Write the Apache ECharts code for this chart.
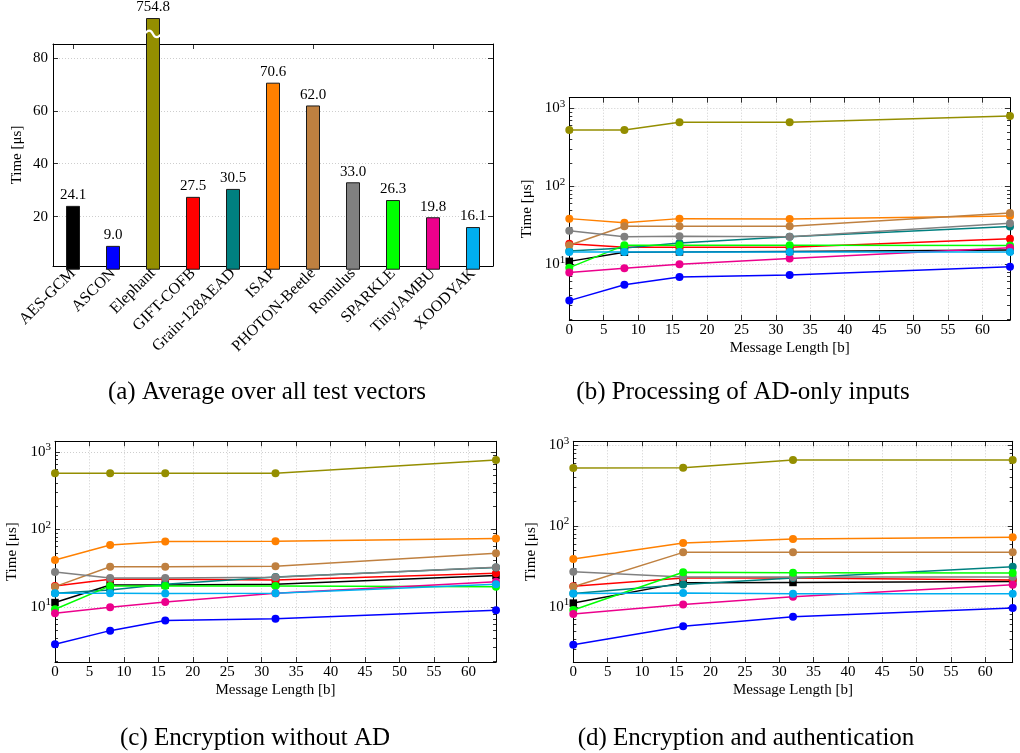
<!DOCTYPE html>
<html><head><meta charset="utf-8">
<script src="https://cdn.jsdelivr.net/npm/echarts@6/dist/echarts.min.js"></script>
<style>html,body{margin:0;padding:0;background:#fff}#c{width:1020px;height:753px}</style>
</head><body><div id="c"></div>
<script>
// ---------- data ----------
const algorithms = ['AES-GCM','ASCON','Elephant','GIFT-COFB','Grain-128AEAD','ISAP','PHOTON-Beetle','Romulus','SPARKLE','TinyJAMBU','XOODYAK'];
const avgTime = [24.1, 9.0, 754.8, 27.5, 30.5, 70.6, 62.0, 33.0, 26.3, 19.8, 16.1];
const barTicks = [20, 40, 60, 80];

const msgLenAD = [0, 8, 16, 32, 64];
const adOnlyTimes = [
  [10.9, 14.3, 14.4, 14.6, 15.2],
  [3.42, 5.48, 6.89, 7.3, 9.3],
  [527, 527, 661, 661, 796],
  [18.4, 16.5, 16.5, 16.5, 21.2],
  [14.8, 16.2, 18.8, 22.6, 30.6],
  [38.5, 34.2, 38.5, 38.1, 41.5],
  [17.5, 30.7, 30.7, 30.7, 45.5],
  [27.0, 22.6, 22.8, 22.6, 33.6],
  [9.06, 17.5, 17.5, 17.5, 17.4],
  [7.82, 8.89, 10.0, 11.9, 16.3],
  [14.4, 14.4, 14.4, 14.4, 14.4]
];

const msgLenEnc = [0, 8, 16, 32, 64];
const encNoAdTimes = [
  [11.4, 19.2, 19.2, 19.6, 25.4],
  [3.3, 4.95, 6.67, 7.06, 9.06],
  [531, 531, 531, 531, 789],
  [18.7, 22.8, 22.8, 22.3, 27.2],
  [15.0, 16.5, 19.6, 24.4, 32.2],
  [40.4, 63.1, 69.7, 70.3, 76.2],
  [18.3, 33.1, 33.1, 33.4, 49.2],
  [28.3, 23.7, 23.7, 24.1, 32.5],
  [9.33, 18.7, 18.7, 18.7, 18.3],
  [8.28, 9.9, 11.6, 15.0, 21.2],
  [15.0, 15.0, 14.9, 15.0, 19.6]
];

const msgLenEncAuth = [0, 16, 32, 64];
const encAuthTimes = [
  [11.1, 19.9, 20.0, 20.5],
  [3.38, 5.75, 7.52, 9.65],
  [524, 526, 658, 658],
  [18.0, 22.7, 22.7, 21.4],
  [14.6, 18.9, 22.7, 31.3],
  [39.0, 61.5, 69.0, 72.4],
  [17.7, 47.2, 47.2, 47.2],
  [27.2, 23.3, 23.3, 23.3],
  [9.1, 26.7, 26.4, 26.2],
  [8.11, 10.7, 13.3, 18.7],
  [14.6, 14.8, 14.5, 14.5]
];

const xTickStep = 5;
const minorLogTicks = [2,3,4,5,6,7,8,9,20,30,40,50,60,70,80,90,200,300,400,500,600,700,800,900];
const captions = ['(a) Average over all test vectors', '(b) Processing of AD-only inputs', '(c) Encryption without AD', '(d) Encryption and authentication'];

// ---------- styles ----------
const colors = ['#000000','#0000ff','#948e00','#ff0000','#008080','#ff8000','#bf8040','#808080','#00ff00','#ec008c','#00aeef'];
const F = '"Liberation Serif","Times New Roman",serif';
const txt = {fontFamily: F, fontSize: 15, color: '#000'};
const gridLine = {show: true, lineStyle: {color: '#c2c2c2', width: 0.8, type: [1, 2]}};
const axisLine = {show: true, onZero: false, lineStyle: {color: '#000', width: 1}};
const tickMajor = {show: true, inside: true, length: 5, lineStyle: {color: '#000', width: 0.8}};

const grids = [
  {left: 53, top: 44, width: 440, height: 222},
  {left: 569.3, top: 97.7, width: 440.7, height: 222.3},
  {left: 55, top: 441.3, width: 441, height: 220.7},
  {left: 573.3, top: 441.3, width: 439.4, height: 220.7}
];

const xAxes = [], yAxes = [], series = [];

// ---------- panel (a) ----------
const barCap = 95, breakAt = 89, barMin = 1.4, barMax = 85.2;
xAxes.push({type: 'category', gridIndex: 0, data: algorithms, position: 'bottom',
  axisLine, axisTick: Object.assign({}, tickMajor, {alignWithLabel: true}),
  axisLabel: Object.assign({}, txt, {fontSize: 16, rotate: 45, margin: 5, interval: 0}), splitLine: {show: false}});
xAxes.push({type: 'category', gridIndex: 0, data: algorithms, position: 'top',
  axisLine, axisTick: Object.assign({}, tickMajor, {alignWithLabel: true}),
  axisLabel: {show: false}, splitLine: {show: false}});
yAxes.push({type: 'value', gridIndex: 0, min: barMin, max: barMax, position: 'left',
  axisLine, axisTick: Object.assign({}, tickMajor, {customValues: barTicks}),
  axisLabel: Object.assign({}, txt, {customValues: barTicks, margin: 5}),
  splitLine: gridLine,
  name: 'Time [μs]', nameLocation: 'middle', nameGap: 28, nameTextStyle: txt});
yAxes.push({type: 'value', gridIndex: 0, min: barMin, max: barMax, position: 'right',
  axisLine, axisTick: Object.assign({}, tickMajor, {customValues: barTicks}),
  axisLabel: {show: false}, splitLine: {show: false}});

series.push({type: 'bar', xAxisIndex: 0, yAxisIndex: 0, barWidth: 14, clip: false, z: 3,
  data: avgTime.map((v, i) => ({value: Math.min(v, barCap), itemStyle: {color: colors[i]}})),
  itemStyle: {borderColor: '#1a1a1a', borderWidth: 1},
  label: Object.assign({}, txt, {show: true, position: 'top', distance: 3,
    formatter: p => avgTime[p.dataIndex].toFixed(1)})});
// axis-break mark on bars taller than the cap
series.push({type: 'custom', xAxisIndex: 0, yAxisIndex: 0, z: 4, clip: false,
  data: avgTime.map((v, i) => [i, v]).filter(d => d[1] > barCap).map(d => [d[0], breakAt]),
  renderItem: (params, api) => {
    const c = api.coord([api.value(0), api.value(1)]);
    const x = c[0], y = c[1];
    const d = `M ${x-9} ${y+1} C ${x-5} ${y-5}, ${x-2} ${y-4}, ${x} ${y} S ${x+5} ${y+5}, ${x+9} ${y-1}`;
    return {type: 'path', shape: {pathData: d}, style: {fill: 'none', stroke: '#fff', lineWidth: 2.2}};
  }});

// ---------- panels (b)-(d) ----------
const powLabel = v => {
  const e = Math.log10(v), r = Math.round(e);
  if (Math.abs(e - r) > 1e-6) return '';
  return '{b|10}{s|' + r + '}';
};
const panels = [
  {g: 1, xs: msgLenAD, vals: adOnlyTimes, min: 1.93, max: 1368},
  {g: 2, xs: msgLenEnc, vals: encNoAdTimes, min: 1.95, max: 1372},
  {g: 3, xs: msgLenEncAuth, vals: encAuthTimes, min: 2.07, max: 1120}
];
panels.forEach(p => {
  const xi = xAxes.length;
  xAxes.push({type: 'value', gridIndex: p.g, min: 0, max: 64, interval: xTickStep, position: 'bottom',
    axisLine, axisTick: tickMajor,
    axisLabel: Object.assign({}, txt, {margin: 3, showMaxLabel: false}),
    splitLine: gridLine,
    name: 'Message Length [b]', nameLocation: 'middle', nameGap: 21, nameTextStyle: txt});
  xAxes.push({type: 'value', gridIndex: p.g, min: 0, max: 64, interval: xTickStep, position: 'top',
    axisLine, axisTick: tickMajor, axisLabel: {show: false}, splitLine: {show: false}});
  const yi = yAxes.length;
  yAxes.push({type: 'log', logBase: 10, gridIndex: p.g, min: p.min, max: p.max, position: 'left',
    axisLine, axisTick: tickMajor,
    axisLabel: {formatter: powLabel, margin: 4, showMinLabel: false, showMaxLabel: false,
      rich: {b: {fontFamily: F, fontSize: 15, color: '#000'},
             s: {fontFamily: F, fontSize: 11, color: '#000', padding: [0, 0, 9, 0]}}},
    splitLine: gridLine,
    name: 'Time [μs]', nameLocation: 'middle', nameGap: 35, nameTextStyle: txt});
  yAxes.push({type: 'log', logBase: 10, gridIndex: p.g, min: p.min, max: p.max, position: 'right',
    axisLine, axisTick: tickMajor, axisLabel: {show: false}, splitLine: {show: false}});
  // minor log ticks: a hidden linear axis laid over the exponent range
  const lo = Math.log10(p.min), hi = Math.log10(p.max);
  const minors = minorLogTicks.filter(v => v > p.min && v < p.max).map(v => Math.log10(v));
  ['left', 'right'].forEach(pos => yAxes.push({type: 'value', gridIndex: p.g, min: lo, max: hi,
    position: pos, axisLine: {show: false, onZero: false},
    axisTick: {show: true, inside: true, length: 3, customValues: minors, lineStyle: {color: '#000', width: 0.8}},
    axisLabel: {show: false, customValues: minors}, splitLine: {show: false}}));
  algorithms.forEach((name, i) => {
    series.push({type: 'line', name, xAxisIndex: xi, yAxisIndex: yi, clip: false,
      data: p.xs.map((x, j) => [x, p.vals[i][j]]),
      symbol: i === 0 ? 'rect' : 'circle', symbolSize: i === 0 ? 7.5 : 8, showSymbol: true,
      lineStyle: {color: colors[i], width: 1.5}, itemStyle: {color: colors[i]}});
  });
});

// ---------- captions ----------
const capPos = [[267, 392], [743, 392], [255, 738], [746, 738]];
const graphic = captions.map((t, i) => ({type: 'text', x: capPos[i][0], y: capPos[i][1],
  style: {text: t, align: 'center', verticalAlign: 'middle', font: '25px ' + F, fill: '#000'}}));

const chart = echarts.init(document.getElementById('c'), null, {renderer: 'canvas'});
chart.setOption({animation: false, backgroundColor: '#fff', grid: grids, xAxis: xAxes, yAxis: yAxes, series, graphic});
</script></body></html>
